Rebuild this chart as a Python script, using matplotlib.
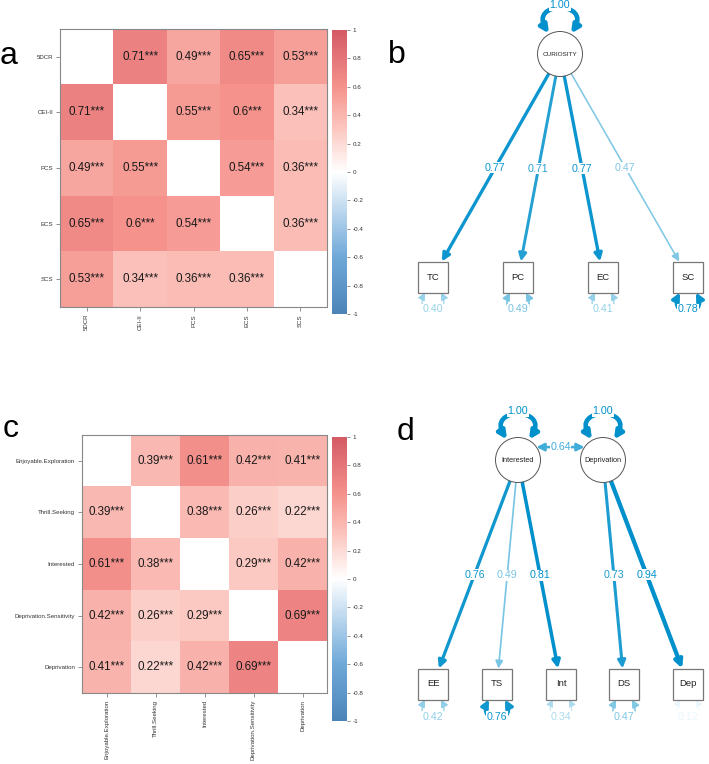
#!/usr/bin/env python3
"""Curiosity scales: correlation heatmaps (a, c) and CFA path diagrams (b, d)."""

import numpy as np
import matplotlib
matplotlib.use("Agg")
import matplotlib.pyplot as plt
from matplotlib.colors import LinearSegmentedColormap, to_rgb
from matplotlib.patches import Circle, Rectangle, FancyArrowPatch, ArrowStyle
from matplotlib.path import Path

plt.rcParams.update({
    "font.family": ["Liberation Sans", "DejaVu Sans"],
    "font.size": 8,
})

# ---- data -------------------------------------------------------------
A_LABELS = ["5DCR", "CEI-II", "PCS", "ECS", "SCS"]
A_R = [
    [1.00, 0.71, 0.49, 0.65, 0.53],
    [0.71, 1.00, 0.55, 0.60, 0.34],
    [0.49, 0.55, 1.00, 0.54, 0.36],
    [0.65, 0.60, 0.54, 1.00, 0.36],
    [0.53, 0.34, 0.36, 0.36, 1.00],
]

C_LABELS = ["Enjoyable.Exploration", "Thrill.Seeking", "Interested",
            "Deprivation.Sensitivity", "Deprivation"]
C_R = [
    [1.00, 0.39, 0.61, 0.42, 0.41],
    [0.39, 1.00, 0.38, 0.26, 0.22],
    [0.61, 0.38, 1.00, 0.29, 0.42],
    [0.42, 0.26, 0.29, 1.00, 0.69],
    [0.41, 0.22, 0.42, 0.69, 1.00],
]

CB_TICKS = [-1, -0.8, -0.6, -0.4, -0.2, 0, 0.2, 0.4, 0.6, 0.8, 1]

# panel b: one-factor model
B_LATENT = "CURIOSITY"
B_LATENT_VAR = 1.00
B_ITEMS = ["TC", "PC", "EC", "SC"]
B_LOADINGS = [0.77, 0.71, 0.77, 0.47]
B_RESID = [0.40, 0.49, 0.41, 0.78]

# panel d: two-factor model
D_LATENTS = ["Interested", "Deprivation"]
D_LATENT_VAR = [1.00, 1.00]
D_COV = 0.64
D_ITEMS = ["EE", "TS", "Int", "DS", "Dep"]
D_FACTOR = [0, 0, 0, 1, 1]
D_LOADINGS = [0.76, 0.49, 0.81, 0.73, 0.94]
D_RESID = [0.42, 0.76, 0.34, 0.47, 0.12]

# ---- layout (pixels, origin top-left) ---------------------------------
W, H = 709, 764
B_LAT_XY = (560, 54)
B_ITEM_X = [433, 518, 603, 688]
B_ITEM_Y = 277
D_LAT_X = [518, 603]
D_LAT_Y = 460
D_ITEM_X = [433, 497, 561, 624, 688]
D_ITEM_Y = 684
R_LAT = 22.5
BOX_HW, BOX_HH = 15, 15.5

CMAP = LinearSegmentedColormap.from_list("corr", [
    (0.0, "#4C84B8"), (0.2, "#6FA9D8"), (0.35, "#B5D3EC"), (0.5, "#FFFFFF"),
    (0.65, "#FCC8C1"), (0.8, "#F5928C"), (1.0, "#D45A66")])
CMAP.set_bad("white")

EDGE_BASE = np.array(to_rgb("#0090CB"))


def edge_color(v):
    a = np.clip(abs(v) / 0.8, 0, 1) ** 1.3
    return tuple(1 - a * (1 - EDGE_BASE))


def edge_lw(v):
    return (0.6 + 4 * max(abs(v) - 0.3, 0) / 0.7) / 1.389


def heatmap(fig, box, cbox, labels, r):
    l, t, rr, b = box
    ax = fig.add_axes([l / W, 1 - b / H, (rr - l) / W, (b - t) / H])
    m = np.array(r, float)
    n = len(labels)
    im = ax.imshow(np.ma.masked_where(np.eye(n, dtype=bool), m), cmap=CMAP,
                   vmin=-1, vmax=1, aspect="auto", interpolation="nearest")
    for i in range(n):
        for j in range(n):
            if i != j:
                ax.text(j, i, f"{m[i, j]:g}***", ha="center", va="center",
                        fontsize=8.4, color="#1a1a1a")
    ax.set_xticks(range(n))
    ax.set_xticklabels(labels, rotation=90, fontsize=4.4)
    ax.set_yticks(range(n))
    ax.set_yticklabels(labels, fontsize=4.4)
    ax.tick_params(length=3, width=0.5, color="#666", pad=2, labelcolor="#333")
    for s in ax.spines.values():
        s.set_color("#888")
        s.set_linewidth(0.8)

    l, t, rr, b = cbox
    cax = fig.add_axes([l / W, 1 - b / H, (rr - l) / W, (b - t) / H])
    cb = fig.colorbar(im, cax=cax, ticks=CB_TICKS)
    cb.ax.set_yticklabels([f"{v:g}" for v in CB_TICKS])
    cb.outline.set_visible(False)
    cax.tick_params(labelsize=4.5, length=2, width=0.5, color="#666", pad=2,
                    labelcolor="#333")


def arrow(ax, p0, p1, v, style="-|>"):
    ar = FancyArrowPatch(p0, p1, arrowstyle=ArrowStyle(style, head_length=0.5, head_width=0.25),
                         mutation_scale=9, lw=edge_lw(v), color=edge_color(v),
                         shrinkA=0, shrinkB=0, zorder=2)
    ax.add_patch(ar)


def curve(ax, verts, v):
    path = Path(verts, [Path.MOVETO, Path.CURVE4, Path.CURVE4, Path.CURVE4])
    ar = FancyArrowPatch(path=path, arrowstyle=ArrowStyle("<|-|>", head_length=0.5, head_width=0.25),
                         mutation_scale=9, lw=edge_lw(v), color=edge_color(v), zorder=2)
    ax.add_patch(ar)


def value_label(ax, x, y, v):
    ax.text(x, y, f"{v:.2f}", ha="center", va="center", fontsize=7.7,
            color=edge_color(v), zorder=4,
            bbox=dict(boxstyle="square,pad=0.05", fc="white", ec="none"))


def latent(ax, x, y, name, var, fs):
    ax.add_patch(Circle((x, y), R_LAT, fc="white", ec="#555", lw=0.7, zorder=3))
    ax.text(x, y, name, ha="center", va="center", fontsize=fs, color="#222", zorder=4)
    top = y - R_LAT
    curve(ax, [(x - 11, top + 2), (x - 33, top - 31), (x + 33, top - 31), (x + 11, top + 2)], var)
    value_label(ax, x, top - 26, var)


def item(ax, x, y, name, resid):
    ax.add_patch(Rectangle((x - BOX_HW, y - BOX_HH), 2 * BOX_HW, 2 * BOX_HH,
                           fc="white", ec="#777", lw=0.9, zorder=3))
    ax.text(x, y, name, ha="center", va="center", fontsize=6.8, color="#222", zorder=4)
    bot = y + BOX_HH
    curve(ax, [(x - 8, bot), (x - 21, bot + 25), (x + 21, bot + 25), (x + 8, bot)], resid)
    value_label(ax, x, bot + 17, resid)


def loading(ax, lat, box, v):
    (lx, ly), (bx, by) = lat, box
    dx, dy = bx - lx, by - ly
    d = np.hypot(dx, dy)
    p0 = (lx + dx * R_LAT / d, ly + dy * R_LAT / d)
    s = min(BOX_HW / abs(dx) if dx else np.inf, BOX_HH / abs(dy))
    p1 = (bx - dx * s, by - dy * s)
    arrow(ax, p0, p1, v)
    value_label(ax, (p0[0] + p1[0]) / 2, (p0[1] + p1[1]) / 2, v)


fig = plt.figure(figsize=(W / 100, H / 100), dpi=100)
ov = fig.add_axes([0, 0, 1, 1])
ov.set_xlim(0, W)
ov.set_ylim(H, 0)
ov.axis("off")

heatmap(fig, (60, 29, 327, 307), (332, 30, 347, 314), A_LABELS, A_R)
heatmap(fig, (82, 435, 327, 693), (332, 437, 347, 721), C_LABELS, C_R)

# panel b
for x, name, lam, res in zip(B_ITEM_X, B_ITEMS, B_LOADINGS, B_RESID):
    loading(ov, B_LAT_XY, (x, B_ITEM_Y), lam)
    item(ov, x, B_ITEM_Y, name, res)
latent(ov, *B_LAT_XY, B_LATENT, B_LATENT_VAR, 4.6)

# panel d
for x, name, f, lam, res in zip(D_ITEM_X, D_ITEMS, D_FACTOR, D_LOADINGS, D_RESID):
    loading(ov, (D_LAT_X[f], D_LAT_Y), (x, D_ITEM_Y), lam)
    item(ov, x, D_ITEM_Y, name, res)
for x, name, var in zip(D_LAT_X, D_LATENTS, D_LATENT_VAR):
    latent(ov, x, D_LAT_Y, name, var, 5.3)
ang = np.deg2rad(35)
c0 = (D_LAT_X[0] + R_LAT * np.cos(ang), D_LAT_Y - R_LAT * np.sin(ang))
c1 = (D_LAT_X[1] - R_LAT * np.cos(ang), D_LAT_Y - R_LAT * np.sin(ang))
arrow(ov, c0, c1, D_COV, style="<|-|>")
value_label(ov, (c0[0] + c1[0]) / 2, c0[1], D_COV)

for letter, (x, y) in zip("abcd", [(0, 64), (388, 63), (3, 437), (397, 440)]):
    ov.text(x, y, letter, fontsize=23, ha="left", va="baseline", color="black")

fig.savefig("out.png", dpi=100)
